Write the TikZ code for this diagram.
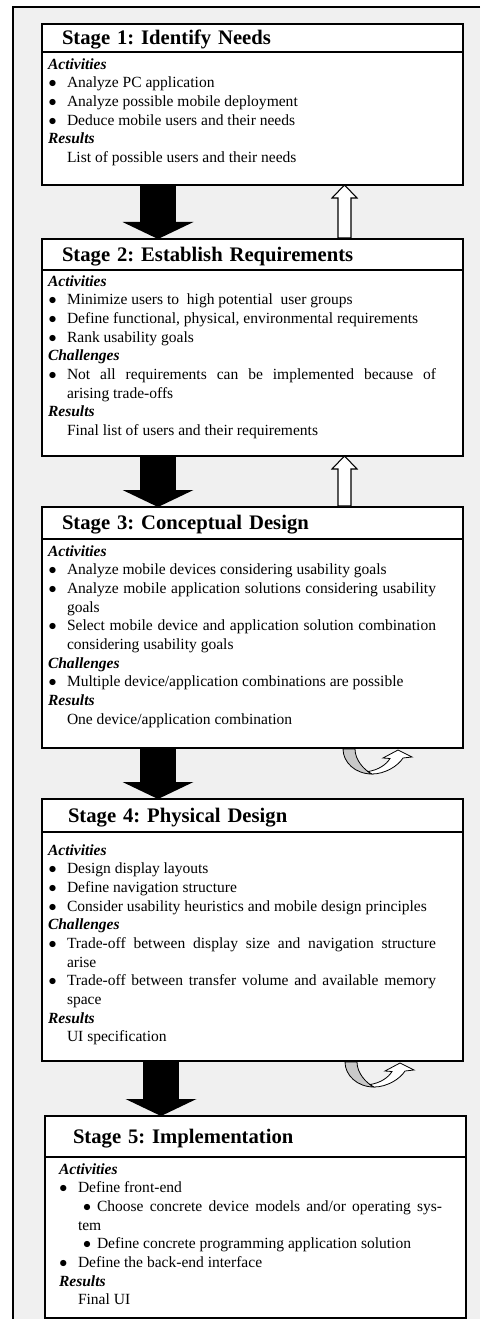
\documentclass[tikz,border=0pt]{standalone}
\usepackage{fontspec}
\setmainfont{Liberation Serif}
\usetikzlibrary{arrows.meta, positioning}
\definecolor{panel}{RGB}{240,240,240}
\definecolor{backside}{RGB}{200,200,200}
\newlength{\px}\setlength{\px}{0.75pt}
\tolerance=10000 \hbadness=10000 \hyphenpenalty=10000
\frenchspacing
\newcommand{\hd}[1]{\noindent\textbf{\textit{#1}}\par}
\newcommand{\itm}[1]{\hangindent=19\px\hangafter=1\noindent\makebox[19\px][l]{\hspace{0.5\px}$\bullet$}#1\par}
\newcommand{\sitm}[1]{{\leftskip=19\px\noindent\makebox[19\px][l]{\hspace{5\px}$\bullet$}#1\par}}
\newcommand{\res}[1]{\noindent\hspace*{19\px}#1\par}
\tikzset{
  stagehead/.style={draw, line width=1.4pt, fill=white, outer sep=0pt, minimum width=421\px,
                    inner xsep=20\px, inner ysep=0pt, text width=381\px, align=left,
                    text height=13.5\px, text depth=0pt,
                    font=\fontsize{15.5}{18}\selectfont\bfseries},
  stagebody/.style={draw, line width=1.4pt, fill=white, outer sep=0pt, inner sep=0pt,
                    minimum width=421\px, font=\fontsize{11.65}{14}\selectfont},
  nextstage/.style={line width=27pt, -{Triangle[length=12.75pt, width=53.25pt, line width=0pt]}},
  backstep/.style={draw=black, line width=0.8pt, fill=white},
  loopback/.style={draw=black, line width=0.6pt},
}

\begin{document}
\begin{tikzpicture}[x=0.75pt, y=-0.75pt]
    \useasboundingbox (0,0) rectangle (480,1319);
    \fill[panel] (13,7) rectangle (480,1319);
    \draw[line width=1.4pt] (480,7) -- (13,7) -- (13,1319);

    % stage 1
    \node[stagehead, minimum height=28\px, anchor=north west] (t1) at (42,24)
          {Stage 1: Identify Needs};
    \node[stagebody, below=0pt of t1] (b1)
          {\hspace*{6\px}\parbox[t][133\px][t]{388\px}{\vspace*{6.5\px}
           \hd{Activities}
           \itm{Analyze PC application}
           \itm{Analyze possible mobile deployment}
           \itm{Deduce mobile users and their needs}
           \hd{Results}
           \res{List of possible users and their needs}}\hspace*{27\px}};

    % stage 2
    \node[stagehead, minimum height=31\px, below=54\px of b1] (t2)
          {Stage 2: Establish Requirements};
    \node[stagebody, below=0pt of t2] (b2)
          {\hspace*{6\px}\parbox[t][186\px][t]{388\px}{\vspace*{5.5\px}
           \hd{Activities}
           \itm{Minimize users to~ high potential~ user groups}
           \itm{Define functional, physical, environmental requirements}
           \itm{Rank usability goals}
           \hd{Challenges}
           \itm{Not all requirements can be implemented because of\linebreak arising trade-offs}
           \hd{Results}
           \res{Final list of users and their requirements}}\hspace*{27\px}};

    % stage 3
    \node[stagehead, minimum height=32\px, below=51\px of b2] (t3)
          {Stage 3: Conceptual Design};
    \node[stagebody, below=0pt of t3] (b3)
          {\hspace*{6\px}\parbox[t][209\px][t]{388\px}{\vspace*{6.5\px}
           \hd{Activities}
           \itm{Analyze mobile devices considering usability goals}
           \itm{Analyze mobile application solutions considering usability\linebreak goals}
           \itm{Select mobile device and application solution combination\linebreak considering usability goals}
           \hd{Challenges}
           \itm{Multiple device/application combinations are possible}
           \hd{Results}
           \res{One device/application combination}}\hspace*{27\px}};

    % stage 4
    \node[stagehead, minimum height=33\px, below=51\px of b3] (t4)
          {\hspace*{6\px}Stage 4: Physical Design};
    \node[stagebody, below=0pt of t4] (b4)
          {\hspace*{6\px}\parbox[t][229\px][t]{388\px}{\vspace*{12.5\px}
           \hd{Activities}
           \itm{Design display layouts}
           \itm{Define navigation structure}
           \itm{Consider usability heuristics and mobile design principles}
           \hd{Challenges}
           \itm{Trade-off between display size and navigation structure\linebreak arise}
           \itm{Trade-off between transfer volume and available memory\linebreak space}
           \hd{Results}
           \res{UI specification}}\hspace*{27\px}};

    % stage 5
    \node[stagehead, minimum height=41\px, below=55\px of b4, xshift=3\px] (t5)
          {\hspace*{8\px}Stage 5: Implementation};
    \node[stagebody, below=0pt of t5] (b5)
          {\hspace*{14\px}\parbox[t][161\px][t]{383\px}{\vspace*{6.5\px}
           \hd{Activities}
           \itm{Define front-end}
           \sitm{Choose concrete device models and/or operating sys-\linebreak tem}
           \sitm{Define concrete programming application solution}
           \itm{Define the back-end interface}
           \hd{Results}
           \res{Final UI}}\hspace*{24\px}};

    % forward arrows
    \draw[nextstage] ([xshift=116\px]b1.south west) -- ([xshift=116\px]t2.north west);
    \draw[nextstage] ([xshift=116\px]b2.south west) -- ([xshift=116\px]t3.north west);
    \draw[nextstage] ([xshift=116\px]b3.south west) -- ([xshift=116\px]t4.north west);
    \draw[nextstage] ([xshift=119\px]b4.south west) -- ([xshift=116\px]t5.north west);

    % feedback arrows
    \draw[backstep] ([xshift=296\px,yshift=1\px]t2.north west) -- ([xshift=296\px,yshift=-13\px]b1.south west)
          -- ([xshift=290\px,yshift=-13\px]b1.south west) -- ([xshift=302.5\px]b1.south west)
          -- ([xshift=315\px,yshift=-13\px]b1.south west) -- ([xshift=309\px,yshift=-13\px]b1.south west)
          -- ([xshift=309\px,yshift=1\px]t2.north west) -- cycle;
    \draw[backstep] ([xshift=296\px,yshift=1\px]t3.north west) -- ([xshift=296\px,yshift=-13\px]b2.south west)
          -- ([xshift=290\px,yshift=-13\px]b2.south west) -- ([xshift=302.5\px]b2.south west)
          -- ([xshift=315\px,yshift=-13\px]b2.south west) -- ([xshift=309\px,yshift=-13\px]b2.south west)
          -- ([xshift=309\px,yshift=1\px]t3.north west) -- cycle;

    % iteration arrows
    \begin{scope}[shift={([xshift=301\px]b3.south west)}]
      \filldraw[loopback, fill=backside] (0,1) .. controls (0,14) and (12,26) .. (29,26)
            .. controls (21,22) and (12,12) .. (12,1) -- cycle;
      \filldraw[loopback, fill=white] (29,26) .. controls (42,26) and (55,18) .. (60,10)
            -- (69,9) -- (55,2) -- (40,10) -- (47,10.5) .. controls (43,17) and (35,22) .. (25,23.5) -- cycle;
    \end{scope}
    \begin{scope}[shift={([xshift=303\px]b4.south west)}]
      \filldraw[loopback, fill=backside] (0,1) .. controls (0,14) and (12,26) .. (29,26)
            .. controls (21,22) and (12,12) .. (12,1) -- cycle;
      \filldraw[loopback, fill=white] (29,26) .. controls (42,26) and (55,18) .. (60,10)
            -- (69,9) -- (55,2) -- (40,10) -- (47,10.5) .. controls (43,17) and (35,22) .. (25,23.5) -- cycle;
    \end{scope}
\end{tikzpicture}
\end{document}
